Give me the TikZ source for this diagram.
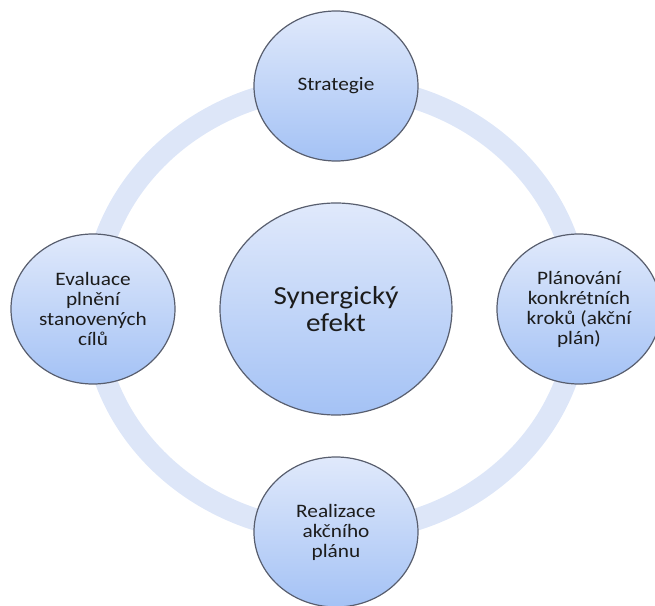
\documentclass[tikz,border=0pt]{standalone}
\usepackage{fontspec}
\setmainfont{Carlito}
\newfontfamily\bubblefont[FakeStretch=1.12]{Carlito}
\usepackage{tikz}
\usetikzlibrary{shapes.geometric,backgrounds}

\definecolor{ringblue}{RGB}{221,230,248}
\definecolor{topblue}{RGB}{224,233,251}
\definecolor{botblue}{RGB}{164,194,245}
\definecolor{rimgray}{RGB}{88,94,110}
\definecolor{inkgray}{RGB}{28,28,28}

\begin{document}
\begin{tikzpicture}[x=0.5pt,y=0.5pt,node distance=111.5pt,
  bubble/.style={ellipse,draw=rimgray,line width=0.6pt,top color=topblue,bottom color=botblue,
    minimum width=82pt,minimum height=75pt,inner sep=0pt,align=center,text=inkgray,
    font=\bubblefont\fontsize{9.5}{10}\selectfont},
  hub/.style={bubble,minimum width=116pt,minimum height=106pt,
    font=\bubblefont\fontsize{13}{13.5}\selectfont},
  ring/.style={draw=ringblue,line width=11pt}]
\useasboundingbox (-336,-297) rectangle (319,309);
\node[hub] (SE) at (0,0) {Synergický\\efekt};
\node[bubble] (ST) [above of=SE] {Strategie};
\node[bubble] (RE) [below of=SE] {Realizace\\akčního\\plánu};
\node[bubble] (PL) [right of=SE, node distance=121.5pt] {Plánování\\konkrétních\\kroků (akční\\plán)};
\node[bubble] (EV) [left of=SE, node distance=121.5pt] {Evaluace\\plnění\\stanovených\\cílů};
\begin{scope}[on background layer]
\draw[ring] (SE.center) ellipse [x radius=243, y radius=223];
\end{scope}
\end{tikzpicture}
\end{document}
